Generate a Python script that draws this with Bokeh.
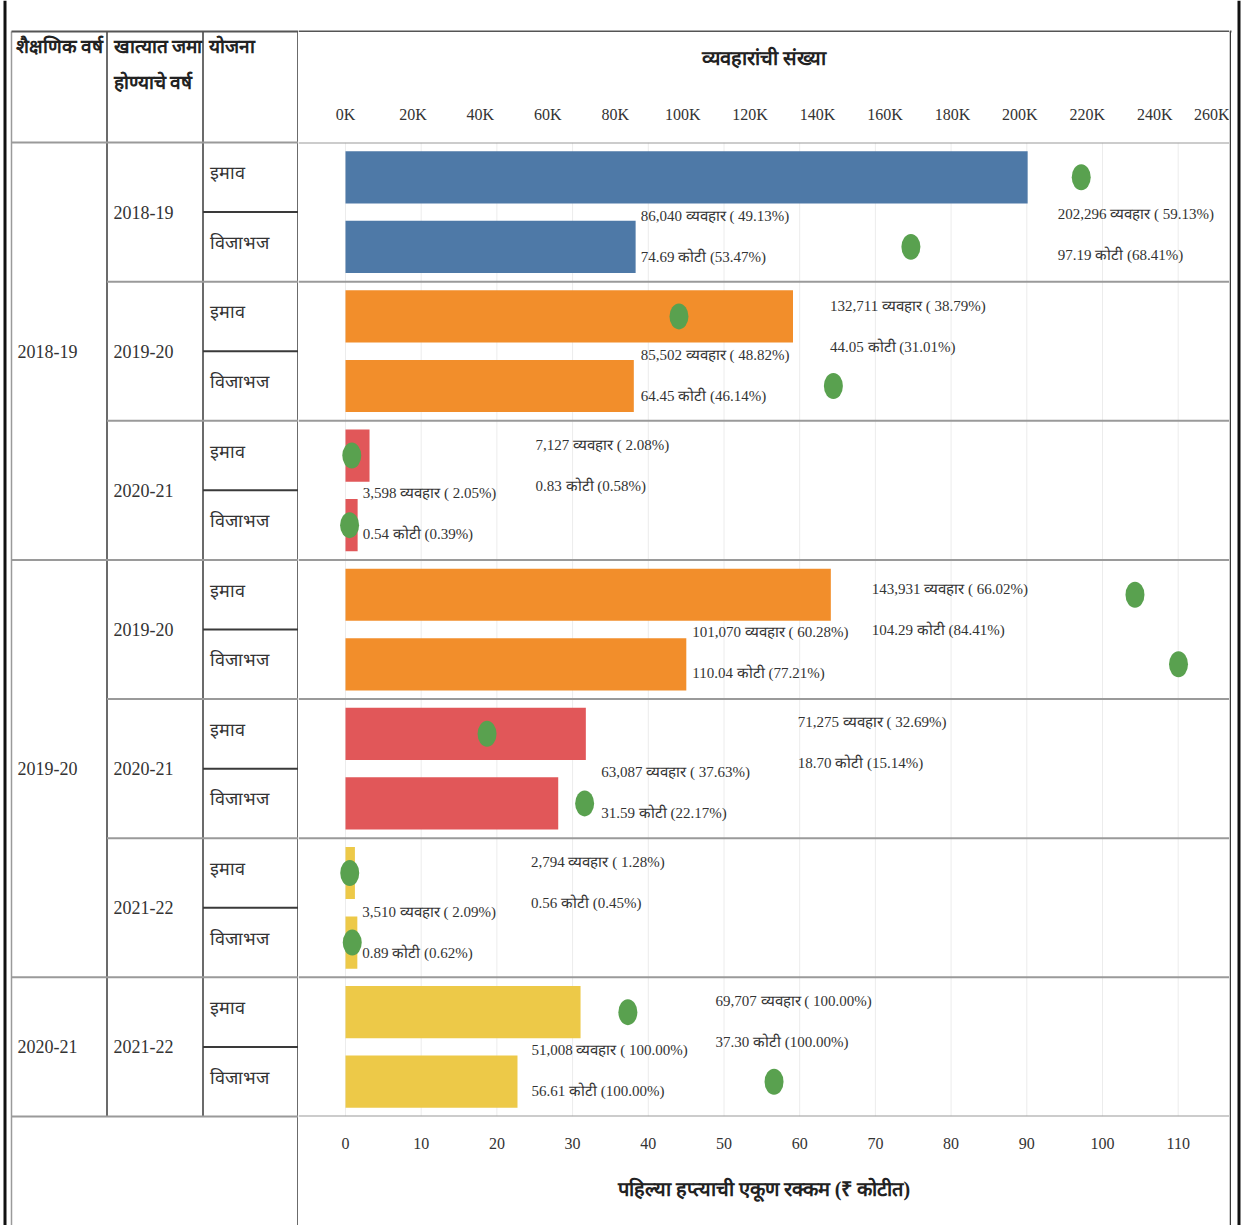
from bokeh.plotting import figure
from bokeh.models import Range1d, LinearAxis, FixedTicker, ColumnDataSource, Span
from bokeh.layouts import row, column
from bokeh.embed import file_html
from bokeh.resources import INLINE
from bokeh.core.properties import value

# ---------------- data ----------------
academic_years = ["2018-19", "2019-20", "2020-21"]
groups_per_academic_year = [3, 3, 1]
credit_years = ["2018-19", "2019-20", "2020-21", "2019-20", "2020-21", "2021-22", "2021-22"]
schemes = ["इमाव", "विजाभज"]
transactions = [202296, 86040, 132711, 85502, 7127, 3598, 143931, 101070,
                71275, 63087, 2794, 3510, 69707, 51008]
transactions_pct = [59.13, 49.13, 38.79, 48.82, 2.08, 2.05, 66.02, 60.28,
                    32.69, 37.63, 1.28, 2.09, 100.00, 100.00]
amount_crore = [97.19, 74.69, 44.05, 64.45, 0.83, 0.54, 104.29, 110.04,
                18.70, 31.59, 0.56, 0.89, 37.30, 56.61]
amount_pct = [68.41, 53.47, 31.01, 46.14, 0.58, 0.39, 84.41, 77.21,
              15.14, 22.17, 0.45, 0.62, 100.00, 100.00]
txn_ticks = list(range(0, 260001, 20000))
txn_tick_labels = ["0K", "20K", "40K", "60K", "80K", "100K", "120K", "140K",
                   "160K", "180K", "200K", "220K", "240K", "260K"]
amt_ticks = list(range(0, 111, 10))
header_col1 = "शैक्षणिक वर्ष"
header_col2 = ["खात्यात जमा", "होण्याचे वर्ष"]
header_col3 = "योजना"
top_title = "व्यवहारांची संख्या"
bottom_title = "पहिल्या हप्त्याची एकूण रक्कम (₹ कोटीत)"
unit_txn = "व्यवहार"
unit_amt = "कोटी"

year_colors = {"2018-19": "#4e79a7", "2019-20": "#f28e2b",
               "2020-21": "#e15759", "2021-22": "#edc948"}
DOT_COLOR = "#59a14f"

# ---------------- layout constants (page pixels) ----------------
PAGE_W, PAGE_H = 1242, 1225
LEFT_W = 298            # table columns
FRAME_W = 931           # plot area width
RIGHT_W = PAGE_W - LEFT_W - FRAME_W
HEAD_TOP = 31
BODY_TOP, BODY_BOTTOM = 142, 1116
N_ROWS = len(transactions)
ROW_PX = (BODY_BOTTOM - BODY_TOP) / N_ROWS

def R(py):
    return (py - BODY_TOP) / ROW_PX

ZERO_PX = 47
TXN_PX = 3.372 / 1000.0
AMT_PX = 7.57
X0 = -ZERO_PX / TXN_PX
X1 = X0 + FRAME_W / TXN_PX
A0 = -ZERO_PX / AMT_PX
A1 = A0 + FRAME_W / AMT_PX

# label placement (pixel offsets, style only)
label_dx = [30, 5, 37, 7, 166, 5, 41, 6, 212, 43, 176, 5, 135, 14]
label_dy1 = [37, -31, -10, -31, -11, -32, -6, -32, -12, -31, -11, -31, -11, -32]
label_dy2 = [78, 10, 31, 10, 30, 9, 35, 9, 29, 10, 30, 10, 30, 9]

SERIF = value("Liberation Serif")
TEXT_COL = "#333333"
LINE_DARK = "#3a3a3a"
LINE_GRAY = "#9a9a9a"
BLACK = "#111111"

def bare(fig):
    fig.outline_line_color = None
    fig.grid.visible = False
    fig.background_fill_color = "white"
    fig.border_fill_color = "white"
    fig.frame_align = False
    return fig

# ---------------- main chart ----------------
rows = list(range(N_ROWS))
src = ColumnDataSource(dict(
    y=[i + 0.5 for i in rows],
    txn=transactions,
    amt=amount_crore,
    color=[year_colors[credit_years[i // 2]] for i in rows],
    lab1=[f"{t:,} {unit_txn} ( {pc:.2f}%)" for t, pc in zip(transactions, transactions_pct)],
    lab2=[f"{a:.2f} {unit_amt} ({pc:.2f}%)" for a, pc in zip(amount_crore, amount_pct)],
    dx=label_dx, dy1=label_dy1, dy2=label_dy2,
))

MAIN_H = PAGE_H - (HEAD_TOP + 1)
p = figure(width=FRAME_W, height=MAIN_H, x_range=Range1d(X0, X1), y_range=Range1d(N_ROWS, 0),
           x_axis_location="above", y_axis_location=None,
           output_backend="svg", toolbar_location=None,
           min_border_left=0, min_border_right=0,
           min_border_top=BODY_TOP - (HEAD_TOP + 1),
           min_border_bottom=PAGE_H - BODY_BOTTOM)
bare(p)
p.extra_x_ranges = {"amt": Range1d(A0, A1)}

top_axis = p.xaxis[0]
top_axis.ticker = FixedTicker(ticks=txn_ticks)
top_axis.major_label_overrides = {t: l for t, l in zip(txn_ticks, txn_tick_labels)}
bottom_axis = LinearAxis(x_range_name="amt", ticker=FixedTicker(ticks=amt_ticks))
p.add_layout(bottom_axis, "below")

for ax, title, ls, ts in ((top_axis, top_title, 14, 34), (bottom_axis, bottom_title, 15, 26)):
    ax.axis_label = title
    ax.axis_line_color = None
    ax.major_tick_line_color = None
    ax.minor_tick_line_color = None
    ax.major_label_text_font = "Liberation Serif"
    ax.major_label_text_font_size = "16px"
    ax.major_label_text_color = TEXT_COL
    ax.major_label_standoff = ls
    ax.axis_label_text_font = "Liberation Serif"
    ax.axis_label_text_font_style = "bold"
    ax.axis_label_text_font_size = "20px"
    ax.axis_label_text_color = "#222222"
    ax.axis_label_standoff = ts

# faint vertical gridlines at the amount ticks
p.segment(x0=amt_ticks, y0=[0] * len(amt_ticks), x1=amt_ticks, y1=[N_ROWS] * len(amt_ticks),
          x_range_name="amt", line_color="#ececec", line_width=1)

# bars (transactions) and dots (amount)
p.hbar(y="y", left=0, right="txn", height=0.75, fill_color="color", line_color=None, source=src)
p.ellipse(x="amt", y="y", width=19, height=26, width_units="screen", height_units="screen",
          fill_color=DOT_COLOR, line_color=None, source=src, x_range_name="amt")

for col, dy in (("lab1", "dy1"), ("lab2", "dy2")):
    p.text(x="txn", y="y", text=col, x_offset="dx", y_offset=dy, source=src,
           text_font=SERIF, text_font_size="15px", text_color=TEXT_COL,
           text_align="left", text_baseline="middle")

for g in range(0, N_ROWS + 1, 2):
    p.add_layout(Span(location=g, dimension="width", line_color=LINE_GRAY, line_width=2))

# ---------------- header strip above the plot area ----------------
hs = figure(width=FRAME_W, height=HEAD_TOP + 1, x_range=Range1d(0, FRAME_W),
            y_range=Range1d(HEAD_TOP + 1, 0), x_axis_location=None, y_axis_location=None,
            output_backend="svg", toolbar_location=None, min_border=0)
bare(hs)
hs.segment(x0=[0], y0=[HEAD_TOP], x1=[FRAME_W], y1=[HEAD_TOP], line_color="#555555", line_width=2)

# ---------------- right border strip ----------------
rs = figure(width=RIGHT_W, height=PAGE_H, x_range=Range1d(LEFT_W + FRAME_W, PAGE_W),
            y_range=Range1d(PAGE_H, 0), x_axis_location=None, y_axis_location=None,
            output_backend="svg", toolbar_location=None, min_border=0)
bare(rs)
rs.segment(x0=[LEFT_W + FRAME_W], y0=[HEAD_TOP], x1=[LEFT_W + FRAME_W + 2], y1=[HEAD_TOP],
           line_color="#555555", line_width=2)
rs.segment(x0=[LEFT_W + FRAME_W + 0.75], y0=[HEAD_TOP], x1=[LEFT_W + FRAME_W + 0.75], y1=[PAGE_H],
           line_color=LINE_DARK, line_width=1.5)
rs.segment(x0=[1238.5], y0=[0], x1=[1238.5], y1=[PAGE_H], line_color=BLACK, line_width=3)

# ---------------- left table ----------------
t = figure(width=LEFT_W, height=PAGE_H, x_range=Range1d(0, LEFT_W),
           y_range=Range1d(R(PAGE_H), R(0)),
           x_axis_location=None, y_axis_location=None,
           output_backend="svg", toolbar_location=None, min_border=0)
bare(t)

C1, C2, C3, C4 = 11, 106.5, 202.5, 297.5
top_y = R(HEAD_TOP)
bot_y = R(PAGE_H)

segs = []  # (x0, y0, x1, y1, color, width)
segs.append((4.5, bot_y, 4.5, R(0), BLACK, 3))                 # outer black frame
segs.append((C1, top_y, C1, bot_y, LINE_GRAY, 1.5))              # table left
segs.append((C4, top_y, C4, bot_y, LINE_DARK, 1.5))              # plot-area left
segs.append((C2, top_y, C2, N_ROWS, LINE_DARK, 1.5))
segs.append((C3, top_y, C3, N_ROWS, LINE_DARK, 1.5))
segs.append((C1, top_y, LEFT_W, top_y, "#555555", 2))           # header top
starts = [0]
for n in groups_per_academic_year:
    starts.append(starts[-1] + 2 * n)
for b in starts:
    segs.append((C1, b, LEFT_W, b, LINE_GRAY, 2))
for g in range(0, N_ROWS, 2):
    if g not in starts:
        segs.append((C2, g, LEFT_W, g, LINE_GRAY, 2))
for r_ in range(1, N_ROWS, 2):
    segs.append((C3, r_, C4, r_, LINE_DARK, 2))

for x0, y0, x1, y1, c, w in segs:
    t.segment(x0=[x0], y0=[y0], x1=[x1], y1=[y1], line_color=c, line_width=w)

TX = dict(text_font=SERIF, text_color=TEXT_COL, text_align="left", text_baseline="middle")
t.text(x=[209] * N_ROWS, y=[i + 0.5 for i in rows], text=[schemes[i % 2] for i in rows],
       y_offset=-4, text_font_size="18px", **TX)
t.text(x=[113] * len(credit_years), y=[2 * g + 1 for g in range(len(credit_years))],
       text=credit_years, text_font_size="18px", **TX)
ay_y = [(starts[k] + starts[k + 1]) / 2 for k in range(len(academic_years))]
t.text(x=[17] * len(academic_years), y=ay_y, text=academic_years, text_font_size="18px", **TX)
HX = dict(text_font=SERIF, text_color="#222222", text_align="left", text_baseline="middle",
          text_font_style="bold", text_font_size="19px")
t.text(x=[15, 113, 113, 208], y=[R(46), R(46), R(82), R(46)],
       text=[header_col1, header_col2[0], header_col2[1], header_col3], **HX)

layout = row(t, column(hs, p, spacing=0), rs, spacing=0)
open("out.html", "w").write(file_html(layout, INLINE))
